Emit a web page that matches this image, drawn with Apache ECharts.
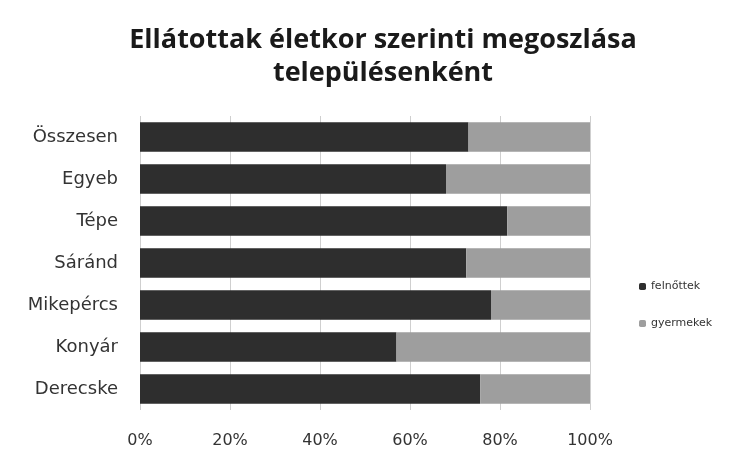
<!DOCTYPE html>
<html>
<head>
<meta charset="utf-8">
<script src="https://cdn.jsdelivr.net/npm/echarts@6/dist/echarts.min.js"></script>
<style>
  html, body { margin: 0; padding: 0; background: #fff; }
  #chart { width: 731px; height: 454px; }
</style>
</head>
<body>
<div id="chart"></div>
<script>
// település nevek (alulról felfelé, ahogy az ECharts kategória tengely rajzolja)
var telepulesek = ['Derecske', 'Konyár', 'Mikepércs', 'Sáránd', 'Tépe', 'Egyeb', 'Összesen'];
// arányok százalékban
var felnottek = [75.6, 57, 78, 72.5, 81.6, 68, 73];
var gyermekek = [24.4, 43, 22, 27.5, 18.4, 32, 27];
var tickLabels = ['0%', '20%', '40%', '60%', '80%', '100%'];

var myChart = echarts.init(document.getElementById('chart'));
var option = {
    backgroundColor: '#fff',
    title: {
        text: 'Ellátottak életkor szerinti megoszlása\ntelepülésenként',
        left: 378,
        textAlign: 'center',
        top: 19,
        textStyle: {
            fontFamily: 'Open Sans',
            fontWeight: 'bold',
            fontSize: 27,
            lineHeight: 33,
            color: '#1a1a1a'
        }
    },
    legend: {
        orient: 'vertical',
        left: 634,
        top: 276,
        itemGap: 26,
        itemWidth: 7,
        itemHeight: 7,
        textStyle: { fontFamily: 'DejaVu Sans', fontSize: 11, color: '#333' },
        data: ['felnőttek', 'gyermekek']
    },
    grid: {
        left: 140,
        right: 141,
        top: 116,
        bottom: 44
    },
    xAxis: {
        type: 'value',
        min: 0,
        max: 100,
        interval: 20,
        axisLine: { show: false },
        axisTick: { show: false },
        splitLine: { lineStyle: { color: '#cfcfcf' } },
        axisLabel: {
            margin: 23,
            fontFamily: 'DejaVu Sans',
            fontSize: 16,
            color: '#333',
            formatter: function (v) { return tickLabels[v / 20]; }
        }
    },
    yAxis: {
        type: 'category',
        data: telepulesek,
        axisLine: { show: false },
        axisTick: { show: false },
        axisLabel: {
            margin: 22,
            fontFamily: 'DejaVu Sans',
            fontSize: 18,
            color: '#333'
        }
    },
    series: [{
        name: 'felnőttek',
        type: 'bar',
        stack: 'ossz',
        barWidth: '70%',
        itemStyle: { color: '#2e2e2e' },
        data: felnottek
    }, {
        name: 'gyermekek',
        type: 'bar',
        stack: 'ossz',
        barWidth: '70%',
        itemStyle: { color: '#9e9e9e' },
        data: gyermekek
    }]
};
myChart.setOption(option);
</script>
</body>
</html>
